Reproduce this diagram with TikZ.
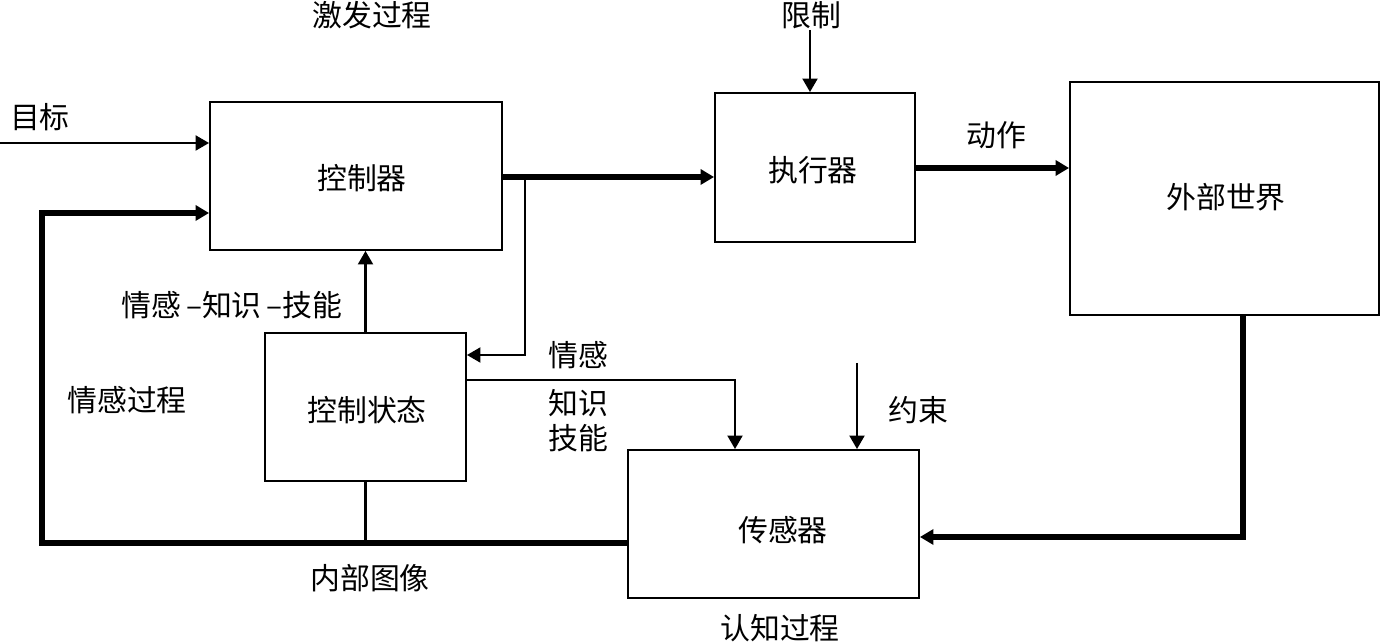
\documentclass[tikz,border=0pt]{standalone}
\usepackage{fontspec}
\newfontfamily\cjk{Noto Sans CJK SC}
\usetikzlibrary{arrows.meta}
\begin{document}
\begin{tikzpicture}[x=0.02cm,y=-0.02cm,
  every node/.style={font=\cjk\fontsize{17}{20}\selectfont, inner sep=0pt},
  box/.style={draw, line width=1.1pt, fill=white},
  thinline/.style={line width=1.2pt},
  thickline/.style={line width=3pt},
  tip/.style={-{Triangle[length=0.27cm,width=0.3cm]}}]
\useasboundingbox (0,0) rectangle (1382,644);
% boxes
\node[box, minimum width=5.84cm, minimum height=2.96cm] (ctrl) at (356,176) {};
\node at (362,178) {控制器};
\node[box, minimum width=4.0cm, minimum height=2.98cm] (act) at (815,167.5) {};
\node at (813,170) {执行器};
\node[box, minimum width=6.18cm, minimum height=4.66cm] (world) at (1224.5,198.5) {};
\node at (1226,197) {外部世界};
\node[box, minimum width=4.02cm, minimum height=2.96cm] (state) at (365.5,407) {};
\node at (367,410) {控制状态};
\node[box, minimum width=5.82cm, minimum height=2.96cm] (sensor) at (773.5,524) {};
\node at (783,530) {传感器};
% coordinates
\coordinate (goal) at (0,143);
\coordinate (split) at (525,177);
\coordinate (s2) at (525,355);
\coordinate (limit) at (810,30);
\coordinate (a1) at (0,168);
\coordinate (w1) at (1243,537);
\coordinate (f1) at (42,543);
\coordinate (f2) at (42,213);
\coordinate (k1) at (735,380);
\coordinate (c1) at (857,363);
% connectors
\draw[thinline,tip] (goal) -- (goal -| ctrl.west);
\draw[thickline,tip] (split -| ctrl.east) -- (split -| act.west);
\draw[thinline,tip] (split) -- (s2) -- (s2 -| state.east);
\draw[thinline,tip] (limit) -- (limit |- act.north);
\draw[thickline,tip] (a1 -| act.east) -- (a1 -| world.west);
\draw[thickline,tip] (w1 |- world.south) -- (w1) -- (w1 -| sensor.east);
\draw[thickline,tip] (f1 -| sensor.west) -- (f1) -- (f2) -- (f2 -| ctrl.west);
\draw[thinline] (state.south) -- (state.south |- f1);
\draw[thinline,tip] (state.north) -- (state.north |- ctrl.south);
\draw[thinline,tip] (k1 -| state.east) -- (k1) -- (k1 |- sensor.north);
\draw[thinline,tip] (c1) -- (c1 |- sensor.north);
% labels
\node (l1) at (372,15) {激发过程};
\node (l2) at (811,15) {限制};
\node (l3) at (40,117) {目标};
\node (l4) at (996,135) {动作};
\node (l5) at (232,305) {情感\,–知识\,–技能};
\node (l6) at (127,400) {情感过程};
\node (l7) at (578,355) {情感};
\node (l8) at (578,403) {知识};
\node (l9) at (578,438) {技能};
\node (l10) at (918,410) {约束};
\node (l11) at (370,578) {内部图像};
\node (l12) at (780,628) {认知过程};
\end{tikzpicture}
\end{document}
